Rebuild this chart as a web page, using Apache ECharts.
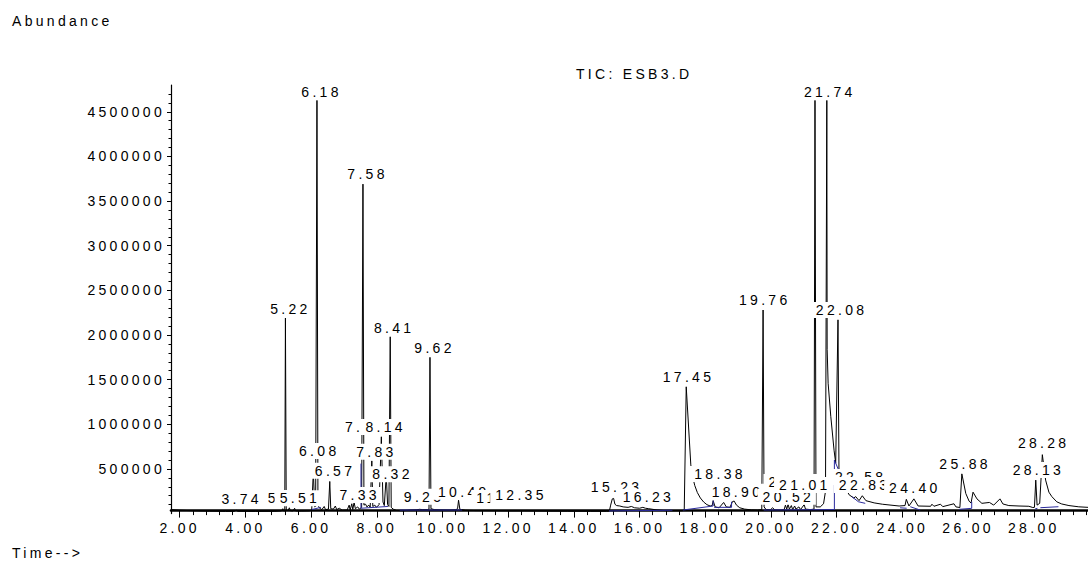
<!DOCTYPE html>
<html><head><meta charset="utf-8">
<script src="https://cdn.jsdelivr.net/npm/echarts@6/dist/echarts.min.js"></script>
<style>
html,body{margin:0;padding:0;background:#fff;}
#c{width:1088px;height:562px;}
#c text{letter-spacing:3.3px;}
</style></head><body><div id="c"></div>
<script>
// ---- data ----
const xTickLabels = [2, 4, 6, 8, 10, 12, 14, 16, 18, 20, 22, 24, 26, 28];
const yTickLabels = [500000, 1000000, 1500000, 2000000, 2500000, 3000000, 3500000, 4000000, 4500000];

// TIC trace: [time (min), abundance]
const ticTrace = [
 [1.74,45000],[2.0,38000],[2.4,32000],[2.9,27000],[3.4,24000],[3.66,25000],[3.72,38000],[3.77,26000],
 [4.3,24000],[4.9,25000],[5.10,30000],[5.14,55000],[5.17,28000],[5.20,30000],[5.22,2190000],[5.245,40000],
 [5.30,35000],[5.34,65000],[5.37,32000],[5.45,30000],[5.50,60000],[5.53,30000],[5.70,28000],[5.95,30000],
 [6.02,40000],[6.07,480000],[6.11,75000],[6.14,80000],[6.18,4630000],[6.21,95000],[6.26,60000],[6.33,45000],
 [6.40,80000],[6.44,45000],[6.53,50000],[6.57,360000],[6.60,55000],[6.68,50000],[6.74,85000],[6.78,45000],
 [6.86,60000],[6.95,38000],[7.10,40000],[7.16,95000],[7.19,40000],[7.24,110000],[7.27,45000],[7.31,125000],
 [7.35,55000],[7.42,75000],[7.47,50000],[7.54,70000],[7.58,3690000],[7.61,95000],[7.66,105000],[7.70,75000],
 [7.76,95000],[7.80,70000],[7.85,590000],[7.88,80000],[7.94,95000],[7.99,70000],[8.07,100000],[8.14,860000],
 [8.19,130000],[8.23,90000],[8.29,430000],[8.33,100000],[8.37,80000],[8.41,1980000],[8.44,70000],[8.50,50000],
 [8.60,35000],[8.80,32000],[9.00,38000],[9.20,42000],[9.30,48000],[9.40,45000],[9.55,45000],[9.59,50000],
 [9.62,1750000],[9.65,55000],[9.75,45000],[9.95,40000],[10.20,38000],[10.40,42000],[10.46,55000],[10.49,150000],
 [10.53,48000],[10.70,38000],[11.00,34000],[11.50,32000],[12.00,30000],[12.50,30000],[13.00,28000],[13.80,26000],
 [14.50,25000],[15.00,25000],[15.08,28000],[15.12,95000],[15.17,165000],[15.21,170000],[15.25,105000],[15.30,90000],
 [15.40,85000],[15.50,75000],[15.65,70000],[15.75,80000],[15.85,65000],[16.00,60000],[16.10,70000],[16.18,60000],
 [16.28,55000],[16.50,42000],[16.80,32000],[17.10,30000],[17.30,32000],[17.36,40000],[17.42,1420000],[17.56,545000],
 [17.62,405000],[17.68,315000],[17.76,235000],[17.85,175000],[17.95,130000],[18.05,100000],[18.15,85000],[18.21,90000],
 [18.24,145000],[18.30,75000],[18.42,65000],[18.56,125000],[18.64,75000],[18.75,70000],[18.83,135000],[18.88,140000],
 [18.95,95000],[19.05,65000],[19.20,50000],[19.40,42000],[19.60,40000],[19.72,45000],[19.76,2280000],[19.79,75000],
 [19.85,45000],[19.98,42000],[20.05,65000],[20.12,40000],[20.30,38000],[20.40,45000],[20.44,95000],[20.48,50000],
 [20.52,105000],[20.56,50000],[20.62,90000],[20.66,45000],[20.72,85000],[20.76,50000],[20.85,75000],[20.90,45000],
 [21.01,100000],[21.05,50000],[21.20,45000],[21.31,50000],[21.34,4630000],[21.37,75000],[21.50,75000],[21.60,110000],
 [21.66,250000],[21.70,4630000],[21.71,1840000],[21.74,1460000],[21.82,1090000],[21.92,710000],[21.97,565000],[22.04,2170000],
 [22.07,470000],[22.22,320000],[22.38,210000],[22.52,175000],[22.58,190000],[22.68,145000],[22.78,200000],[22.89,145000],
 [23.14,120000],[23.39,105000],[23.90,85000],[24.08,90000],[24.12,160000],[24.20,85000],[24.35,165000],[24.48,85000],
 [24.86,82000],[24.90,105000],[24.96,82000],[25.16,105000],[25.23,78000],[25.57,110000],[25.63,75000],[25.75,68000],
 [25.81,445000],[25.93,225000],[26.03,140000],[26.09,118000],[26.15,240000],[26.27,165000],[26.42,115000],[26.65,125000],
 [26.78,95000],[26.97,165000],[27.06,108000],[27.24,90000],[27.55,85000],[27.85,82000],[27.97,68000],[28.02,70000],
 [28.06,375000],[28.10,95000],[28.18,115000],[28.26,660000],[28.36,375000],[28.46,240000],[28.55,190000],[28.70,132000],
 [28.85,108000],[29.07,90000],[29.37,76000],[29.65,70000]
];

// integration baselines (blue), each a small polyline
const baselineSegments = [
 [[6.02,45000],[6.30,70000]],
 [[7.52,560000],[7.52,60000],[8.34,80000]],
 [[8.70,40000],[10.60,40000]],
 [[15.07,30000],[17.00,38000]],
 [[17.32,40000],[18.24,85000],[18.24,145000]],
 [[18.27,70000],[18.80,70000],[18.80,133000]],
 [[19.78,40000],[21.93,45000],[21.93,600000],[22.08,469000]],
 [[22.46,190000],[22.66,133000],[22.87,115000]],
 [[23.93,65000],[24.13,60000]],
 [[24.24,77000],[24.54,40000]],
 [[25.73,48000],[26.11,59000],[26.11,133000]],
 [[28.04,52000],[28.11,59000]],
 [[28.20,66000],[28.75,77000]]
];

// peak labels: text, anchor time, anchor abundance (label centre)
const labelTexts  = ['3.74','5.26','5.22','5.51','6.08','6.18','6.57','7.33','7.66','7.58','7.83','8.14','8.32','8.41','9.25','9.62','10.49','11.62','12.35','15.23','16.23','17.45','18.38','18.90','19.76','20.52','20.71','21.01','21.74','22.08','22.58','22.83','24.40','25.88','28.13','28.28'];
const labelTimes  = [3.84,5.25,5.32,5.61,6.20,6.27,6.68,7.43,7.60,7.67,7.94,8.22,8.43,8.48,9.39,9.71,10.60,11.75,12.34,15.25,16.22,17.44,18.40,18.93,19.76,20.48,20.66,20.98,21.74,22.10,22.68,22.80,24.33,25.86,28.09,28.25];
const labelValues = [163000,175000,2288000,171000,701000,4718000,480000,208000,970000,3803000,693000,970000,440000,2079000,189000,1855000,245000,175000,208000,295000,189000,1533000,443000,245000,2392000,189000,354000,320000,4720000,2280000,410000,320000,283000,555000,488000,787000];

// ---- chart ----
const FONT = '"Liberation Sans", Arial, Helvetica, sans-serif';
const SP = 3.3;
const xMinor = [];
for (let i = 6; i <= 74; i++) { if (i % 5 !== 0) xMinor.push(+(i * 0.4).toFixed(1)); }
const yMinor = [];
for (let i = 1; i <= 47; i++) { if (i % 5 !== 0) yMinor.push(i * 100000); }

const X_MIN = 1.737, X_MAX = 29.65, Y_MAX = 4800000;

const mctx = document.createElement('canvas').getContext('2d');
mctx.font = '14px ' + FONT;
function inkWidth(t) { return mctx.measureText(t).width + (t.length - 1) * SP; }

// labels as a custom series: each item = white box + text, later items drawn over earlier ones
const labelSeries = {
  type: 'custom', z: 10, silent: true, animation: false, clip: false,
  data: labelTimes.map((t, i) => [t, labelValues[i]]),
  renderItem: (params, api) => {
    const i = params.dataIndex;
    const p = api.coord([api.value(0), api.value(1)]);
    const txt = labelTexts[i];
    const w = inkWidth(txt);
    return {
      type: 'group',
      children: [
        { type: 'rect', shape: { x: p[0] - w / 2 - 5, y: p[1] - 8, width: w + 10, height: 16 },
          style: { fill: '#fff' } },
        { type: 'text', style: { text: txt, x: p[0] + SP / 2, y: p[1], font: '14px ' + FONT, fill: '#000',
          align: 'center', verticalAlign: 'middle', textAlign: 'center', textVerticalAlign: 'middle' } }
      ]
    };
  }
};

const baseSeries = baselineSegments.map(seg => ({
  type: 'line', data: seg, symbol: 'none', silent: true, animation: false,
  lineStyle: { color: '#2a2a9c', width: 1 }, z: 3
}));

const chart = echarts.init(document.getElementById('c'), null, { renderer: 'svg', width: 1088, height: 562 });
chart.setOption({
  animation: false,
  backgroundColor: '#fff',
  grid: { left: 171, right: 0, top: 85, bottom: 48.4, containLabel: false },
  xAxis: [{
    type: 'value', min: X_MIN, max: X_MAX, position: 'bottom', offset: -3,
    axisLine: { show: true, onZero: false, lineStyle: { color: '#000', width: 2.6 } },
    axisTick: { show: true, length: 7, customValues: xTickLabels, lineStyle: { color: '#000', width: 1 } },
    axisLabel: { show: true, customValues: xTickLabels, margin: 10, color: '#000', fontSize: 14, fontFamily: FONT,
      formatter: v => v.toFixed(2) },
    splitLine: { show: false }
  }, {
    type: 'value', min: X_MIN, max: X_MAX, position: 'bottom', offset: -3,
    axisLine: { show: false, onZero: false },
    axisTick: { show: true, length: 4.5, customValues: xMinor, lineStyle: { color: '#000', width: 1 } },
    axisLabel: { show: false }, splitLine: { show: false }
  }],
  yAxis: [{
    type: 'value', min: 0, max: Y_MAX, position: 'left',
    axisLine: { show: true, onZero: false, lineStyle: { color: '#000', width: 1.2 } },
    axisTick: { show: true, length: 4, customValues: yTickLabels, lineStyle: { color: '#000', width: 1 } },
    axisLabel: { show: true, customValues: yTickLabels, margin: 6, color: '#000', fontSize: 14, fontFamily: FONT,
      formatter: v => String(v) },
    splitLine: { show: false }
  }, {
    type: 'value', min: 0, max: Y_MAX, position: 'left',
    axisLine: { show: false, onZero: false },
    axisTick: { show: true, length: 2.5, customValues: yMinor, lineStyle: { color: '#000', width: 1 } },
    axisLabel: { show: false }, splitLine: { show: false }
  }],
  graphic: [
    { type: 'text', x: 12, y: 20.5, silent: true,
      style: { text: 'Abundance', font: '14px ' + FONT, fill: '#000', align: 'left', verticalAlign: 'middle' } },
    { type: 'text', x: 12, y: 553, silent: true,
      style: { text: 'Time-->', font: '14px ' + FONT, fill: '#000', align: 'left', verticalAlign: 'middle' } },
    { type: 'text', x: 576, y: 73.5, silent: true,
      style: { text: 'TIC: ESB3.D', font: '14px ' + FONT, fill: '#000', align: 'left', verticalAlign: 'middle' } }
  ],
  series: [
    { type: 'line', data: ticTrace, symbol: 'none', silent: true, animation: false,
      lineStyle: { color: '#000', width: 1 }, z: 2 },
    ...baseSeries,
    labelSeries
  ]
});
</script></body></html>
